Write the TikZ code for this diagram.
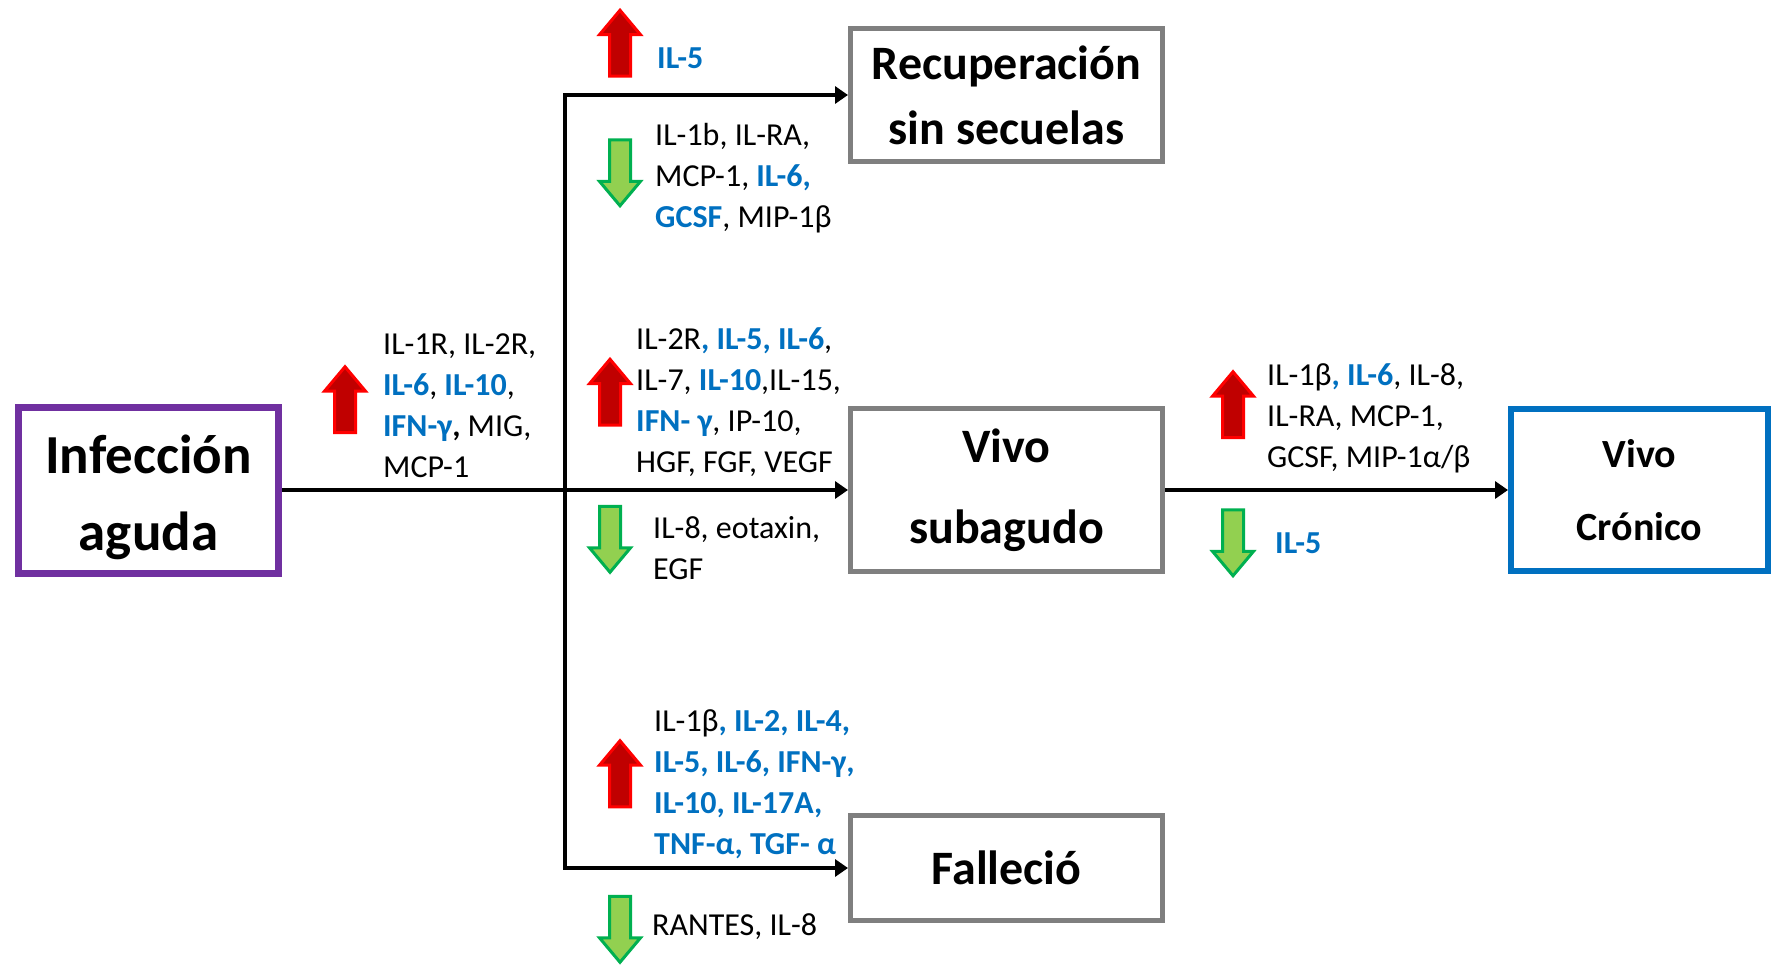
\documentclass[tikz,border=0pt]{standalone}
\usepackage{fontspec}
\setmainfont{Carlito}
\usetikzlibrary{arrows.meta,shapes.arrows}
\definecolor{azul}{HTML}{0070C0}
\definecolor{morado}{HTML}{7030A0}
\definecolor{gris}{HTML}{7F7F7F}
\definecolor{rojo}{HTML}{FF0000}
\definecolor{rojooscuro}{HTML}{C00000}
\definecolor{verde}{HTML}{00B050}
\definecolor{verdeclaro}{HTML}{92D050}
\newcommand{\az}[1]{\textcolor{azul}{\textbf{#1}}}
\begin{document}
\begin{tikzpicture}[x=1pt,y=-1pt,
  box/.style={draw=gris,line width=5pt,minimum width=312pt,align=center,
    font=\bfseries\fontsize{48}{81}\selectfont},
  conn/.style={line width=4.5pt,-{Triangle[length=13pt,width=17pt]}},
  lbl/.style={anchor=west,align=left,inner sep=0pt,font=\fontsize{32}{41}\selectfont},
  sube/.style={single arrow,draw=rojo,fill=rojooscuro,line width=3pt,inner sep=9pt,
    minimum height=66pt,single arrow head extend=10pt,single arrow tip angle=80,rotate=90},
  baja/.style={sube,draw=verde,fill=verdeclaro,rotate=180}]
\useasboundingbox (0,0) rectangle (1777,964);

% estados
\node[box,draw=morado,line width=7pt,minimum width=260pt,minimum height=166pt,
  font=\bfseries\fontsize{55}{77}\selectfont] (inf) at (148.5,490) {\rule{0pt}{54pt}Infección\\aguda};
\node[box,minimum height=133pt,font=\bfseries\fontsize{48}{65}\selectfont] (rec) at (1006.5,95) {Recuperación\\sin secuelas};
\node[box,minimum height=163pt] (sub) at (1006.5,490) {Vivo\\subagudo};
\node[box,minimum height=105pt] (fal) at (1006.5,868) {Falleció};
\node[box,draw=azul,line width=6pt,minimum width=257pt,minimum height=162pt,
  font=\bfseries\fontsize{40}{73}\selectfont] (cro) at (1639.5,490) {Vivo\\Crónico};

% flechas
\coordinate (jt) at (565,95);
\coordinate (jb) at (565,868);
\draw[conn] (inf.east) -- (sub.west);
\draw[conn] (sub.east) -- (cro.west);
\draw[conn] (jb) -- (jt) -- (rec.west);
\draw[conn] (jt) -- (jb) -- (fal.west);

% citocinas
\node[sube] (upA) at (345,406) {};
\node[lbl] (txtA) at (383,406) {IL-1R, IL-2R,\\\az{IL-6}, \az{IL-10},\\\az{IFN-γ}\textbf{,} MIG,\\MCP-1};

\node[sube] (upB) at (620,49.5) {};
\node[lbl] (txtB) at (657,58) {\az{IL-5}};

\node[baja] (dnC) at (620,166.5) {};
\node[lbl] (txtC) at (655,178) {IL-1b, IL-RA,\\MCP-1, \az{IL-6,}\\\az{GCSF}, MIP-1β};

\node[sube] (upD) at (610,398.5) {};
\node[lbl] (txtD) at (636,402) {IL-2R\az{, IL-5, IL-6},\\IL-7, \az{IL-10},IL-15,\\\az{IFN- γ}, IP-10,\\HGF, FGF, VEGF};

\node[baja] (dnE) at (610,533) {};
\node[lbl] (txtE) at (653,548) {IL-8, eotaxin,\\EGF};

\node[sube] (upF) at (620,780) {};
\node[lbl] (txtF) at (654,784) {IL-1β\az{, IL-2, IL-4,}\\\az{IL-5, IL-6, IFN-γ,}\\\az{IL-10, IL-17A,}\\\az{TNF-α, TGF- α}};

\node[baja] (dnG) at (620,923) {};
\node[lbl] (txtG) at (652,927) {RANTES, IL-8};

\node[sube] (upH) at (1233,411) {};
\node[lbl] (txtH) at (1267,418) {IL-1β\az{, IL-6}, IL-8,\\IL-RA, MCP-1,\\GCSF, MIP-1α/β};

\node[baja] (dnI) at (1233,536.5) {};
\node[lbl] (txtI) at (1275,543) {\az{IL-5}};
\end{tikzpicture}
\end{document}
